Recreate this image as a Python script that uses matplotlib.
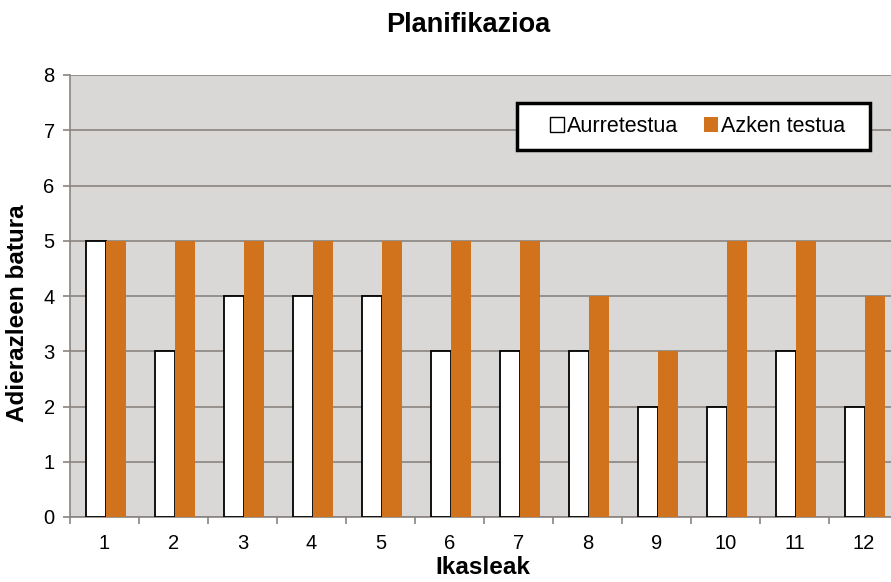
import matplotlib.pyplot as plt
import numpy as np
from matplotlib.patches import Patch, Rectangle

plt.rcParams["font.family"] = ["Liberation Sans", "DejaVu Sans"]

students = ["1", "2", "3", "4", "5", "6", "7", "8", "9", "10", "11", "12"]
pre_test = [5, 3, 4, 4, 4, 3, 3, 3, 2, 2, 3, 2]
final_test = [5, 5, 5, 5, 5, 5, 5, 4, 3, 5, 5, 4]

ORANGE = "#d1731c"
GRID = "#8a8480"

fig = plt.figure(figsize=(8.91, 5.82), dpi=100)
ax = fig.add_axes([70 / 891, 65 / 582, 828 / 891, 442 / 582])
ax.set_facecolor("#d9d8d7")

x = np.arange(len(students))
w = 0.29
ax.bar(x - w / 2 + 0.015, pre_test, w, color="white", edgecolor="black",
       linewidth=1.3, zorder=3)
ax.bar(x + w / 2 + 0.015, final_test, w, color=ORANGE, edgecolor="none", zorder=3)

ax.set_xlim(-0.5, len(students) - 0.5)
ax.set_ylim(0, 8)
ax.set_yticks(range(9))
ax.yaxis.grid(True, color=GRID, linewidth=1.2, zorder=1)
ax.set_axisbelow(True)

ax.set_xticks(x)
ax.set_xticklabels(students)
ax.set_xticks(np.arange(-0.5, len(students), 1), minor=True)
ax.tick_params(axis="x", which="major", length=0, pad=12, labelsize=14.5)
ax.tick_params(axis="x", which="minor", length=5, color=GRID, width=1.2)
ax.tick_params(axis="y", length=5, color=GRID, width=1.2, labelsize=14.5, pad=6)

for s in ("top", "right"):
    ax.spines[s].set_visible(False)
for s in ("left", "bottom"):
    ax.spines[s].set_color(GRID)
    ax.spines[s].set_linewidth(1.2)

fig.text(18 / 891, 1 - 313 / 582, "Adierazleen batura", fontsize=17.5,
         fontweight="bold", rotation=90, ha="center", va="center")
fig.text(483 / 891, 1 - 568 / 582, "Ikasleak", fontsize=17.5,
         fontweight="bold", ha="center", va="center")
fig.text(468 / 891, 1 - 25 / 582, "Planifikazioa", fontsize=19.5,
         fontweight="bold", ha="center", va="center")

# legend box drawn separately so the padding can be uneven
ax.add_patch(Rectangle((0.540, 0.830), 0.426, 0.106, transform=ax.transAxes,
                       facecolor="white", edgecolor="black", linewidth=2.5,
                       zorder=4))
handles = [Patch(facecolor="white", edgecolor="black", linewidth=1.0),
           Patch(facecolor=ORANGE, edgecolor="none")]
leg = ax.legend(handles, ["Aurretestua", "Azken testua"], ncol=2,
                loc="center", bbox_to_anchor=(0.758, 0.8835),
                fontsize=15.5, frameon=False,
                handlelength=0.65, handleheight=0.65, handletextpad=0.15,
                columnspacing=1.2, borderpad=0.6)
leg.set_zorder(5)

fig.savefig("out.png", dpi=100)
